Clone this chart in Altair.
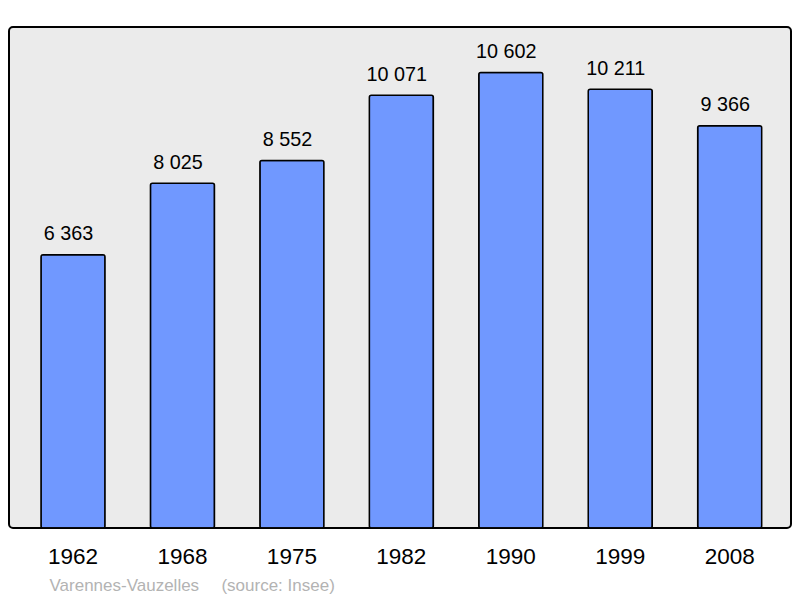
import altair as alt
import pandas as pd

years = ["1962", "1968", "1975", "1982", "1990", "1999", "2008"]
population = [6363, 8025, 8552, 10071, 10602, 10211, 9366]
labels = [f"{v:,}".replace(",", " ") for v in population]
caption = "Varennes-Vauzelles\u00a0\u00a0\u00a0\u00a0\u2009(source: Insee)"

df = pd.DataFrame({"year": years, "pop": population, "label": labels})

x = alt.X(
    "year:N",
    sort=years,
    scale=alt.Scale(paddingInner=0.415, paddingOuter=0.28, align=0.522, round=False),
    axis=alt.Axis(
        title=caption,
        titleFont="Liberation Sans",
        titleFontSize=17,
        titleFontWeight="normal",
        titleColor="#b3b3b3",
        titleAlign="left",
        titleBaseline="alphabetic",
        titleAnchor="start",
        titleX=40,
        titleY=62,
        labelFont="Liberation Sans",
        labelFontSize=22.5,
        labelColor="#000000",
        labelBaseline="alphabetic",
        labelPadding=35.5,
        labelAngle=0,
        domain=False,
        ticks=False,
        tickSize=0,
        grid=False,
    ),
)
y = alt.Y("pop:Q", scale=alt.Scale(domain=[0, 11662], nice=False, zero=True), axis=None)

bars = alt.Chart(df).mark_bar(
    color="#7098ff", stroke="#000000", strokeWidth=1.5, cornerRadius=2
).encode(x=x, y=y)

text = alt.Chart(df).mark_text(
    font="Liberation Sans", fontSize=19.8, color="#000000",
    baseline="alphabetic", align="center", dy=-14.5, dx=-4.5
).encode(x=alt.X("year:N", sort=years), y=y, text="label:N")

chart = (
    alt.layer(bars, text)
    .properties(
        width=782,
        height=501,
        autosize=alt.AutoSizeParams(type="none"),
        padding={"left": 1, "top": 19, "right": 1, "bottom": 67},
        background="#ffffff",
    )
    .configure_view(fill="#ebebeb", stroke="#000000", strokeWidth=2, cornerRadius=4)
)

chart.save("out.html", embed_options={"renderer": "svg", "actions": False})
